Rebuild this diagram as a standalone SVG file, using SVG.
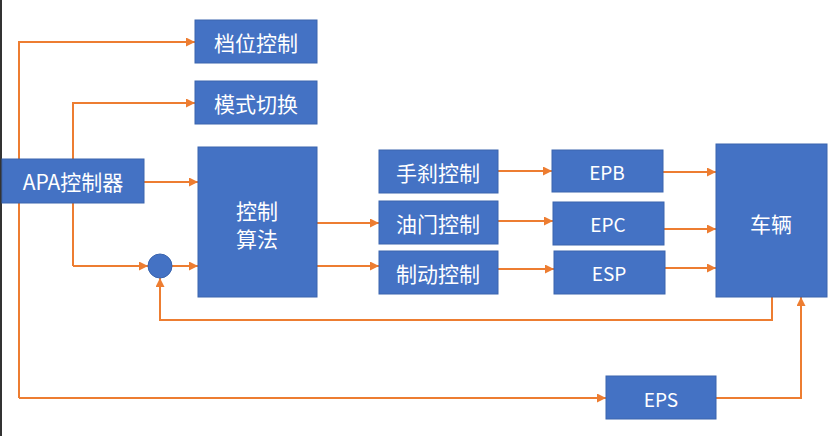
<svg xmlns="http://www.w3.org/2000/svg" width="828" height="436" viewBox="0 0 828 436">
<defs>
<marker id="ah" viewBox="0 0 10 10" refX="10" refY="5" markerWidth="9" markerHeight="9" markerUnits="userSpaceOnUse" orient="auto">
<path d="M0,0 L10,5 L0,10 z" fill="#ED7D31"/>
</marker>
</defs>
<style>
.box{fill:#4472C4;stroke:#3A64AE;stroke-width:1}
.t{fill:#fff;font-family:"Noto Sans CJK SC","Noto Sans",sans-serif;font-size:21px;text-anchor:middle;dominant-baseline:central}
.e{font-size:19px}
.c{fill:none;stroke:#ED7D31;stroke-width:2}
.a{marker-end:url(#ah)}
</style>
<rect width="828" height="436" fill="#fff"/>
<rect x="0" y="0" width="2" height="436" fill="#333"/>
<g id="connectors">
<path class="c a" d="M19,398 V42 H195"/>
<path class="c a" d="M73,266 V103 H195"/>
<path class="c a" d="M73,266 H148"/>
<path class="c a" d="M144,182 H198"/>
<path class="c a" d="M172,266 H198"/>
<path class="c a" d="M317,223 H379"/>
<path class="c a" d="M317,266 H379"/>
<path class="c a" d="M498,171 H552"/>
<path class="c a" d="M498,221 H553"/>
<path class="c a" d="M498,269 H554"/>
<path class="c a" d="M663,172 H716"/>
<path class="c a" d="M664,229 H716"/>
<path class="c a" d="M665,268 H716"/>
<path class="c a" d="M772,297 V320 H160 V278"/>
<path class="c a" d="M19,398 H606"/>
<path class="c a" d="M716,398 H801 V297"/>
</g>
<g id="n-dangwei"><rect class="box" x="195" y="20" width="122" height="43"/><text class="t" x="256" y="42">档位控制</text></g>
<g id="n-moshi"><rect class="box" x="195" y="81" width="122" height="43"/><text class="t" x="256" y="103">模式切换</text></g>
<g id="n-apa"><rect class="box" x="2" y="159" width="142" height="44"/><text class="t" x="73" y="181">APA控制器</text></g>
<g id="n-suanfa"><rect class="box" x="198" y="147" width="119" height="150"/><text class="t" x="257" y="210">控制</text><text class="t" x="257" y="238">算法</text></g>
<g id="n-sum"><circle cx="160" cy="266" r="12" fill="#4472C4" stroke="#3A64AE"/></g>
<g id="n-shousha"><rect class="box" x="379" y="150" width="119" height="43"/><text class="t" x="438" y="172">手刹控制</text></g>
<g id="n-youmen"><rect class="box" x="379" y="201" width="119" height="43"/><text class="t" x="438" y="223">油门控制</text></g>
<g id="n-zhidong"><rect class="box" x="379" y="251" width="119" height="43"/><text class="t" x="438" y="273">制动控制</text></g>
<g id="n-epb"><rect class="box" x="552" y="150" width="111" height="42"/><text class="t e" x="607" y="171">EPB</text></g>
<g id="n-epc"><rect class="box" x="553" y="202" width="111" height="43"/><text class="t e" x="608" y="223">EPC</text></g>
<g id="n-esp"><rect class="box" x="554" y="251" width="111" height="43"/><text class="t e" x="609" y="272">ESP</text></g>
<g id="n-cheliang"><rect class="box" x="716" y="144" width="111" height="153"/><text class="t" x="771" y="223">车辆</text></g>
<g id="n-eps"><rect class="box" x="606" y="376" width="110" height="43"/><text class="t e" x="661" y="398">EPS</text></g>
</svg>
